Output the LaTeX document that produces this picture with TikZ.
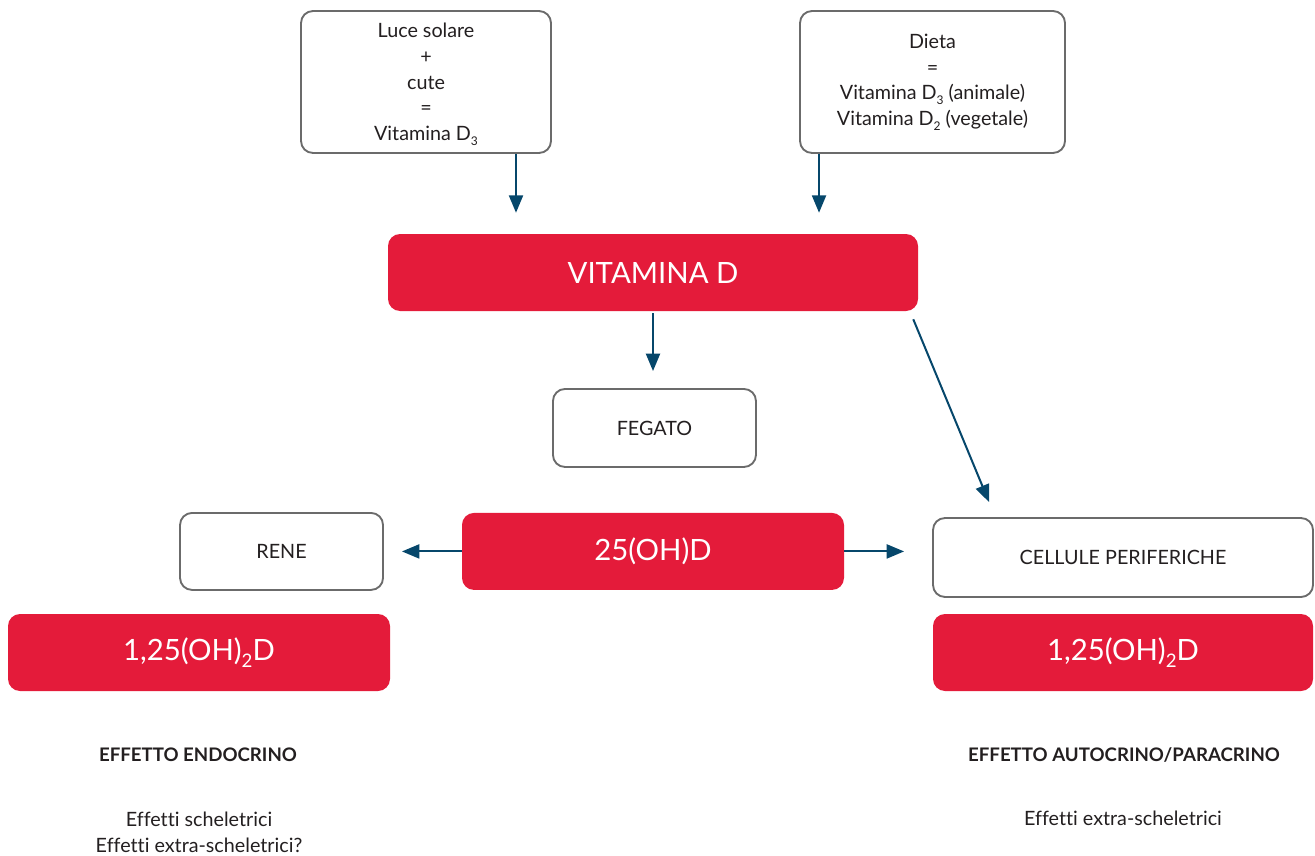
\documentclass[tikz,border=0pt]{standalone}
\usepackage{fontspec}
\setmainfont[Ligatures={NoCommon}]{Lato}
\usepackage{tikz}
\usetikzlibrary{arrows.meta}

\definecolor{vitred}{HTML}{E41B3A}
\definecolor{flowblue}{HTML}{06476B}
\definecolor{boxgrey}{HTML}{6B6B6B}
\definecolor{txtgrey}{HTML}{231F20}

\newcommand{\lowidx}[1]{\raisebox{-0.45ex}{\fontsize{9}{9}\selectfont #1}}
\newcommand{\bigidx}[1]{\raisebox{-0.5ex}{\fontsize{14}{14}\selectfont #1}}

\begin{document}
\begin{tikzpicture}[x=0.75pt, y=-0.75pt,
    whitebox/.style = {draw=boxgrey, line width=1.4pt, rounded corners=9pt, fill=white, text=txtgrey,
                       align=center, inner sep=0pt, font=\fontsize{14.8}{19.3}\selectfont},
    redbox/.style = {fill=vitred, rounded corners=9pt, text=white, inner sep=0pt,
                     minimum height=57.75pt, font=\fontsize{22}{26}\selectfont},
    flow/.style = {draw=flowblue, line width=1.5pt, -{Triangle[length=13pt,width=10.5pt]}},
    note/.style = {text=txtgrey, align=center, font=\fontsize{14.8}{19.3}\selectfont},
    head/.style = {text=txtgrey, font=\fontsize{14}{17}\selectfont\bfseries}]
    \useasboundingbox (0,0) rectangle (1315,856);
        % sources
        \node[whitebox, minimum width=187.5pt, minimum height=106.5pt, text depth=-3pt] (luce) at (426,82)
            {Luce solare\\+\\cute\\=\\Vitamina D\lowidx{3}};
        \node[whitebox, minimum width=198.75pt, minimum height=106.5pt] (dieta) at (932.5,82)
            {Dieta\\=\\Vitamina D\lowidx{3} (animale)\\Vitamina D\lowidx{2} (vegetale)};
        \node[redbox, minimum width=397.5pt] (vitd) at (653,272.5) {VITAMINA D};
        % liver pathway
        \node[whitebox, minimum width=152.25pt, minimum height=58.5pt] (fegato) [below of=vitd, node distance=116.6pt, xshift=1.1pt] {FEGATO};
        \node[redbox, minimum width=286.5pt] (tfh) [below of=fegato, node distance=92.6pt, xshift=-1.1pt] {25(OH)D};
        \node[whitebox, minimum width=152.25pt, minimum height=57.75pt] (rene) [left of=tfh, node distance=278.6pt] {RENE};
        \node[whitebox, minimum width=285pt, minimum height=59.25pt] (cellule) at (1123,557.5) {CELLULE PERIFERICHE};
        \node[redbox, minimum width=286.5pt] (endo) at (199,652.5) {1,25(OH)\bigidx{2}D};
        \node[redbox, minimum width=285pt] (auto) [below of=cellule, node distance=71.25pt] {1,25(OH)\bigidx{2}D};
        % effects
        \node[head] (endohead) at (198,755) {EFFETTO ENDOCRINO};
        \node[note] (endotext) at (199,832) {Effetti scheletrici\\Effetti extra-scheletrici?};
        \node[head] (autohead) at (1124,755) {EFFETTO AUTOCRINO/PARACRINO};
        \node[note] (autotext) at (1123,818) {Effetti extra-scheletrici};
        \draw[flow, shorten >=15.75pt] ([xshift=67.5pt]luce.south) -- ([xshift=67.5pt]luce.south |- vitd.north);
        \draw[flow, shorten >=15.75pt] ([xshift=-85.1pt]dieta.south) -- ([xshift=-85.1pt]dieta.south |- vitd.north);
        \draw[flow, shorten <=1.5pt, shorten >=12.75pt] (vitd.south) -- (vitd.south |- fegato.north);
        \draw[flow] ([xshift=-3.75pt, yshift=-6pt]vitd.south east) -- ([xshift=42.75pt, yshift=11.25pt]cellule.north west);
        \draw[flow, shorten >=13.5pt] (tfh) -- (rene);
        \draw[flow, shorten >=21pt] (tfh.east) -- (tfh.east -| cellule.west);
    \end{tikzpicture}
\end{document}
